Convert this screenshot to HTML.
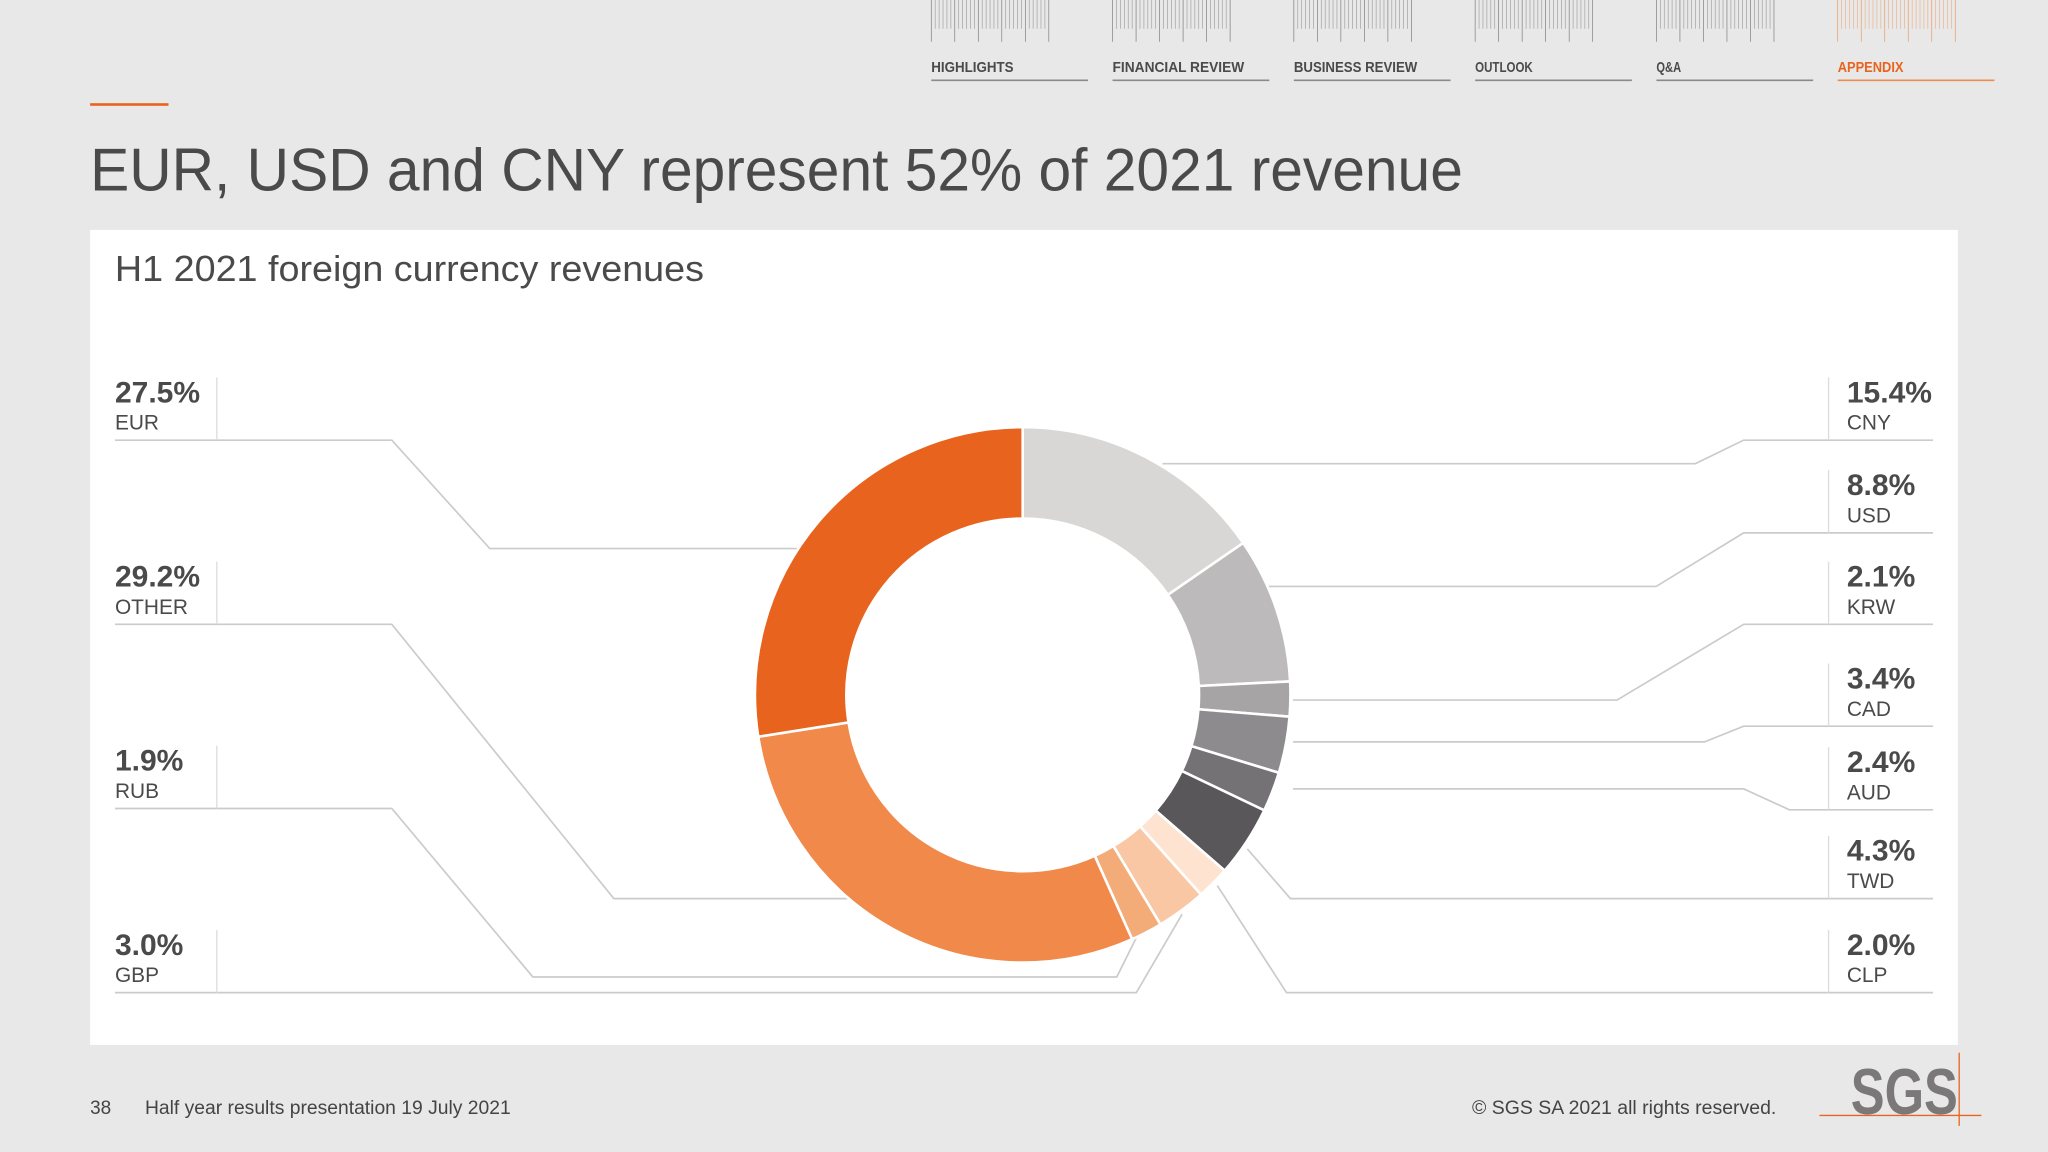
<!DOCTYPE html>
<html><head><meta charset="utf-8"><style>
html,body{margin:0;padding:0;background:#e8e8e8;}
svg{display:block;font-family:"Liberation Sans",Arial,sans-serif;}
</style></head><body>
<svg id="chart" width="2048" height="1152" viewBox="0 0 1568 882">
<rect x="0" y="0" width="1568" height="882" fill="#e8e8e8"/>
<g id="nav"></g>
<rect x="69" y="79" width="60" height="2" fill="#e8641e"/>
<text x="69" y="146" font-size="46" fill="#4a4a4a" textLength="1051" lengthAdjust="spacingAndGlyphs">EUR, USD and CNY represent 52% of 2021 revenue</text>
<rect x="69" y="176" width="1430" height="624" fill="#ffffff"/>
<text x="88" y="215" font-size="28" fill="#4a4a4a" textLength="451" lengthAdjust="spacingAndGlyphs">H1 2021 foreign currency revenues</text>
<g id="leaders"></g>
<g id="donut"></g>
<g id="labels"></g>
<text x="69" y="853" font-size="14.5" fill="#444">38</text>
<text x="111" y="853" font-size="14.5" fill="#444" textLength="280" lengthAdjust="spacingAndGlyphs">Half year results presentation 19 July 2021</text>
<text x="1360" y="853" font-size="14.5" fill="#444" text-anchor="end" textLength="233" lengthAdjust="spacingAndGlyphs">© SGS SA 2021 all rights reserved.</text>
<g>
<text x="1458" y="853" font-size="50" font-weight="bold" fill="#7a7879" text-anchor="middle" textLength="82" lengthAdjust="spacingAndGlyphs" style="font-family:'Liberation Sans Narrow','Liberation Sans',sans-serif">SGS</text>
<line x1="1393" y1="854" x2="1517" y2="854" stroke="#e8641e" stroke-width="1"/>
<line x1="1500" y1="806" x2="1500" y2="862" stroke="#e8641e" stroke-width="1"/>
</g>
</svg>
<script>
const categories=["CNY","USD","KRW","CAD","AUD","TWD","CLP","GBP","RUB","OTHER","EUR"];
const shares=[15.4,8.8,2.1,3.4,2.4,4.3,2.0,3.0,1.9,29.2,27.5];
const labelText=["15.4%","8.8%","2.1%","3.4%","2.4%","4.3%","2.0%","3.0%","1.9%","29.2%","27.5%"];
const navItems=["HIGHLIGHTS","FINANCIAL REVIEW","BUSINESS REVIEW","OUTLOOK","Q&A","APPENDIX"];
const colors=["#d9d6d6","#bdbabb","#a7a4a6","#8e8b8e","#757275","#5a575a","#fde3d0","#f9c7a4","#f3ab78","#f0894a","#e8641e"];
const NS="http://www.w3.org/2000/svg";
function mk(tag,attrs,parent){const e=document.createElementNS(NS,tag);for(const k in attrs)e.setAttribute(k,attrs[k]);parent.appendChild(e);return e;}
const nav=document.getElementById('nav');
navItems.forEach((n,i)=>{
  const x0=713+i*138.8, col=i===5?"#f08a4b":"#6a6a6a";
  const g=mk('g',{},nav);
  
  
  for(let j=0;j<=30;j++){const x=x0+j*3;const tall=j%6===0;mk('line',{x1:x,y1:0,x2:x,y2:tall?32:22,stroke:col,'stroke-width':0.5,opacity:tall?0.9:0.6},g);}
  const t=mk('text',{x:x0,y:55,'font-size':11,'font-weight':'bold',fill:i===5?"#e8641e":"#4a4a4a",textLength:n.length*6.3,lengthAdjust:'spacingAndGlyphs'},g);t.textContent=n;
  mk('line',{x1:x0,y1:61.5,x2:x0+120,y2:61.5,stroke:i===5?"#f08a4b":"#8a8a8a",'stroke-width':1.2},g);
});
const cx=783,cy=532,R=205,r=135;
const total=shares.reduce((a,b)=>a+b,0);
const ang=v=>v/total*2*Math.PI;
const pt=(a,rad)=>[cx+rad*Math.sin(a),cy-rad*Math.cos(a)];
const donut=document.getElementById('donut');
let acc=0;
shares.forEach((v,i)=>{
  const a0=ang(acc),a1=ang(acc+v);acc+=v;
  const p0=pt(a0,R),p1=pt(a1,R),q1=pt(a1,r),q0=pt(a0,r);const lg=(a1-a0)>Math.PI?1:0;
  const p=mk('path',{d:`M${p0[0]},${p0[1]}A${R},${R} 0 ${lg} 1 ${p1[0]},${p1[1]}L${q1[0]},${q1[1]}A${r},${r} 0 ${lg} 0 ${q0[0]},${q0[1]}Z`,fill:colors[i],stroke:'#fff','stroke-width':2},donut);
  
  
});
const leaders=document.getElementById('leaders');
const lines=[
 "890,355 1298,355 1335,337 1480,337",
 "970,449 1268,449 1335,408 1480,408",
 "990,536 1238,536 1335,478 1480,478",
 "990,568 1305,568 1335,556 1480,556",
 "990,604 1335,604 1370,620 1480,620",
 "955,650 988,688 1480,688",
 "932,678 985,760 1480,760",
 "905,700 870,760 88,760",
 "870,718 855,748 408,748 300,619 88,619",
 "650,688 470,688 300,478 88,478",
 "610,420 375,420 300,337 88,337"];
lines.forEach((l,i)=>{const e=mk('polyline',{points:l,fill:'none',stroke:'#cbcbcb','stroke-width':1.3},leaders);
 
 });
const labels=document.getElementById('labels');
const pos=[[1,337],[1,408],[1,478],[1,556],[1,620],[1,688],[1,760],[0,760],[0,619],[0,478],[0,337]];
shares.forEach((v,i)=>{
  const [side,y]=pos[i];const x=side?1414:88;const sx=side?1400:166;
  const g=mk('g',{},labels);
  
  
  mk('line',{x1:sx,y1:y-48,x2:sx,y2:y,stroke:'#dcdcdc','stroke-width':1},g);
  const t1=mk('text',{x:x,y:y-29,'font-size':23,'font-weight':'bold',fill:'#4a4a4a'},g);t1.textContent=labelText[i];
  const t2=mk('text',{x:x,y:y-8,'font-size':16,fill:'#4a4a4a'},g);t2.textContent=categories[i];
});
</script>
</body></html>
